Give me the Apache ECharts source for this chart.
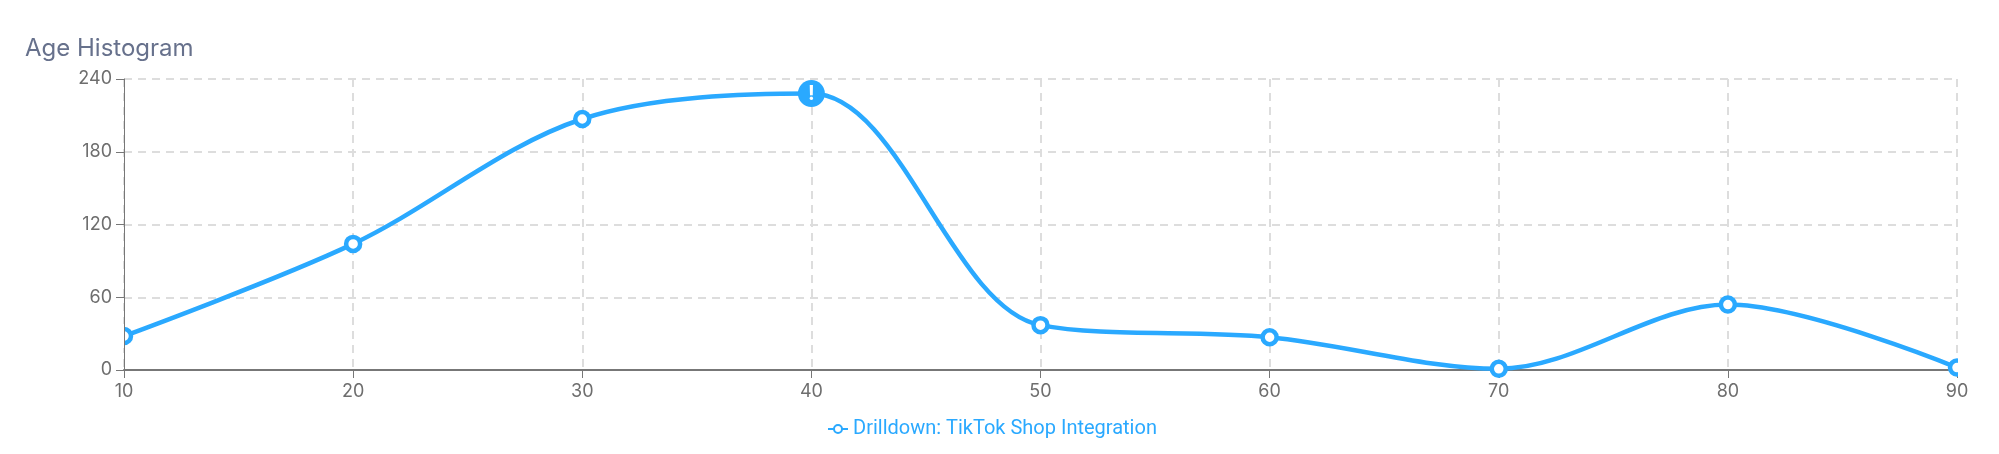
<!DOCTYPE html>
<html>
<head>
<meta charset="utf-8">
<style>
html, body { margin: 0; padding: 0; background: #fff; }
#chart { width: 1999px; height: 454px; }
</style>
<script src="https://cdn.jsdelivr.net/npm/echarts@6/dist/echarts.min.js"></script>
</head>
<body>
<div id="chart"></div>
<script>
const ages = ['10', '20', '30', '40', '50', '60', '70', '80', '90'];
const counts = [28, 104, 207, 228, 37, 27, 1, 54, 2];
const yTicks = { min: 0, max: 240, interval: 60 };
const seriesName = 'Drilldown: TikTok Shop Integration';
const titleText = 'Age Histogram';
const flaggedIndex = 3;
const blue = '#2aa9ff';

const chart = echarts.init(document.getElementById('chart'), null, { renderer: 'canvas' });

const dashed = { show: true, lineStyle: { color: '#dddddd', type: [8, 6], width: 2 } };

chart.setOption({
  animation: false,
  title: {
    text: titleText,
    left: 20,
    top: 32,
    textStyle: { color: '#67718c', fontSize: 24, fontWeight: 'normal', fontFamily: 'Inter' }
  },
  legend: {
    data: [seriesName],
    left: 822,
    top: 414,
    itemWidth: 20,
    itemHeight: 10,
    textStyle: { color: blue, fontSize: 20, fontFamily: 'Roboto' }
  },
  grid: { left: 124, right: 42, top: 79, bottom: 84 },
  xAxis: {
    type: 'category',
    boundaryGap: false,
    data: ages,
    axisLine: { lineStyle: { color: '#777777', width: 2 } },
    axisTick: { show: true, length: 8, lineStyle: { color: '#777777', width: 1 } },
    axisLabel: { color: '#6e6e6e', fontSize: 18, fontFamily: 'Inter', margin: 13 },
    splitLine: dashed
  },
  yAxis: {
    type: 'value',
    min: yTicks.min,
    max: yTicks.max,
    interval: yTicks.interval,
    axisLine: { show: true, lineStyle: { color: '#777777', width: 1 } },
    axisTick: { show: true, length: 8, lineStyle: { color: '#777777', width: 1 } },
    axisLabel: { color: '#6e6e6e', fontSize: 18, fontFamily: 'Inter', margin: 12, padding: [5, 0, 0, 0] },
    splitLine: dashed
  },
  // the reference cuts the end markers at the plot edges
  graphic: [
    { type: 'rect', z: 100, silent: true, shape: { x: 108, y: 324, width: 16, height: 24 }, style: { fill: '#fff' } },
    { type: 'line', z: 101, silent: true, shape: { x1: 124.5, y1: 324, x2: 124.5, y2: 348 }, style: { stroke: '#777777', lineWidth: 1 } },
    { type: 'rect', z: 100, silent: true, shape: { x: 1958, y: 356, width: 14, height: 24 }, style: { fill: '#fff' } }
  ],
  series: [{
    name: seriesName,
    type: 'line',
    smooth: 0.33,
    data: counts,
    symbol: 'circle',
    symbolSize: 14,
    showAllSymbol: true,
    lineStyle: { color: blue, width: 4.5 },
    itemStyle: { color: '#ffffff', borderColor: blue, borderWidth: 4.5 },
    markPoint: {
      silent: true,
      symbol: 'circle',
      symbolSize: 27,
      itemStyle: { color: blue },
      label: { show: true, formatter: '!', color: '#fff', fontSize: 20, fontWeight: 'bold', fontFamily: 'Inter' },
      data: [{ coord: [ages[flaggedIndex], counts[flaggedIndex]] }]
    }
  }]
});

window.addEventListener('resize', function() {
  chart.resize();
});
</script>
</body>
</html>
